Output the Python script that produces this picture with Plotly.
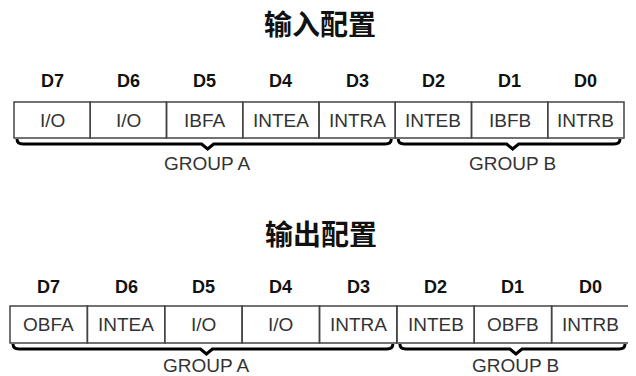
import plotly.graph_objects as go

W, H = 636, 376
OFF = 8  # page body margin

titles = ["输入配置", "输出配置"]
bit_labels = ["D7", "D6", "D5", "D4", "D3", "D2", "D1", "D0"]
input_fields = ["I/O", "I/O", "IBFA", "INTEA", "INTRA", "INTEB", "IBFB", "INTRB"]
output_fields = ["OBFA", "INTEA", "I/O", "I/O", "INTRA", "INTEB", "OBFB", "INTRB"]
group_labels = ["GROUP A", "GROUP B"]
group_sizes = [5, 3]

# layout geometry per diagram (pixel coordinates)
diagrams = [
    dict(fields=input_fields, title_y=23, header_y=81, top=102, bottom=138,
         left=14, right=624, brace_y=144, label_y=163),
    dict(fields=output_fields, title_y=233, header_y=287, top=306, bottom=343,
         left=10, right=629, brace_y=349, label_y=365),
]

fig = go.Figure()
shapes = []
ann = []

for d, title in zip(diagrams, titles):
    n = len(d["fields"])
    cw = (d["right"] - d["left"]) / n
    xs = [d["left"] + i * cw for i in range(n + 1)]
    ann.append(dict(x=(d["left"] + d["right"]) / 2 + 1, y=d["title_y"], text="<b>%s</b>" % title,
                    showarrow=False, font=dict(family="Noto Sans CJK SC", size=28, color="#111")))
    for i in range(n):
        shapes.append(dict(type="rect", x0=xs[i], x1=xs[i + 1], y0=d["top"], y1=d["bottom"],
                           line=dict(color="#444", width=1.5), xref="x", yref="y"))
        ann.append(dict(x=(xs[i] + xs[i + 1]) / 2, y=d["header_y"], text="<b>%s</b>" % bit_labels[i],
                        showarrow=False, font=dict(family="Liberation Sans", size=18, color="#111")))
        ann.append(dict(x=(xs[i] + xs[i + 1]) / 2, y=(d["top"] + d["bottom"]) / 2, text=d["fields"][i],
                        showarrow=False, font=dict(family="Liberation Sans", size=19, color="#333")))
    start = 0
    for gl, gs in zip(group_labels, group_sizes):
        x0 = xs[start] + 3
        x1 = xs[start + gs] - 4
        start += gs
        xm = (x0 + x1) / 2 + 3.5
        yb = d["brace_y"]
        path = (f"M {x0},{yb-5} Q {x0},{yb} {x0+6},{yb} L {xm-6},{yb} L {xm},{yb+5} "
                f"L {xm+6},{yb} L {x1-6},{yb} Q {x1},{yb} {x1},{yb-5}")
        shapes.append(dict(type="path", path=path, line=dict(color="#000", width=3), xref="x", yref="y"))
        ann.append(dict(x=xm, y=d["label_y"], text=gl, showarrow=False,
                        font=dict(family="Liberation Sans", size=19, color="#333")))

fig.update_layout(
    width=W, height=H, margin=dict(l=0, r=0, t=0, b=0),
    paper_bgcolor="white", plot_bgcolor="white",
    xaxis=dict(range=[OFF, W + OFF], visible=False, fixedrange=True),
    yaxis=dict(range=[H + OFF, OFF], visible=False, fixedrange=True),
    shapes=shapes, annotations=ann, showlegend=False,
)
fig.write_html("out.html")
